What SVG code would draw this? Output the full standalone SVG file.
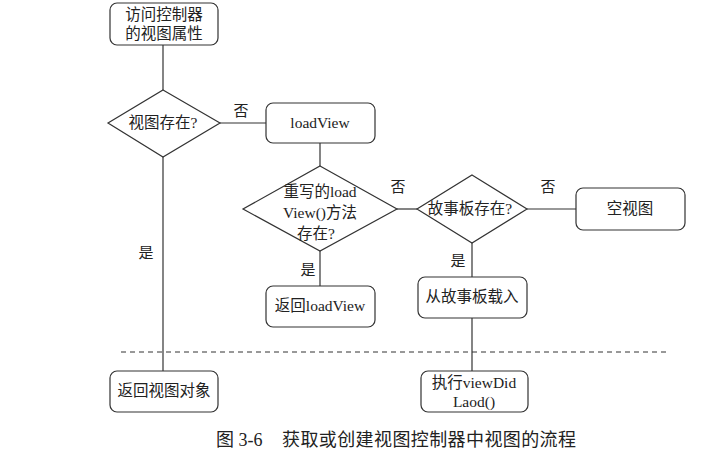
<svg xmlns="http://www.w3.org/2000/svg" width="712" height="463" viewBox="0 0 712 463">
<style>
.n{fill:#fff;stroke:#333;stroke-width:1.2}
.c{stroke:#333;stroke-width:1.2;fill:none}
.t{font-family:"Liberation Serif","Noto Sans CJK SC",serif;font-size:15.5px;fill:#222;text-anchor:middle}
.l{font-family:"Liberation Serif","Noto Sans CJK SC",serif;font-size:15px;fill:#222;text-anchor:middle}
.cap{font-family:"Liberation Serif","Noto Sans CJK SC",serif;font-size:18px;fill:#222}
</style>
<rect width="712" height="463" fill="#fff"/>
<g id="connectors">
<line class="c" x1="163" y1="45" x2="163" y2="90"/>
<line class="c" x1="220" y1="123" x2="266" y2="123"/>
<line class="c" x1="320" y1="143" x2="320" y2="166"/>
<line class="c" x1="397" y1="209" x2="417" y2="209"/>
<line class="c" x1="527" y1="209" x2="576" y2="209"/>
<line class="c" x1="472" y1="243" x2="472" y2="277"/>
<line class="c" x1="472" y1="318" x2="472" y2="371"/>
<line class="c" x1="320" y1="251" x2="320" y2="286"/>
<line class="c" x1="163" y1="157" x2="163" y2="371"/>
<line x1="121" y1="352" x2="667" y2="352" stroke="#333" stroke-width="1" stroke-dasharray="5,4"/>
<text class="l" x="241" y="116">否</text>
<text class="l" x="398" y="192">否</text>
<text class="l" x="548" y="192">否</text>
<text class="l" x="458" y="266">是</text>
<text class="l" x="308" y="275">是</text>
<text class="l" x="146" y="258">是</text>
</g>
<g id="start"><rect class="n" x="110" y="3" width="108" height="42" rx="7"/><text class="t" x="164" y="20">访问控制器</text><text class="t" x="164" y="39">的视图属性</text></g>
<g id="d1"><polygon class="n" points="163,90 220,123 163,157 108,123"/><text class="t" x="163" y="128">视图存在?</text></g>
<g id="loadView"><rect class="n" x="266" y="103" width="109" height="40" rx="7"/><text class="t" x="320" y="128">loadView</text></g>
<g id="d2"><polygon class="n" points="320,166 397,209 320,251 243,209"/><text class="t" x="320" y="197">重写的load</text><text class="t" x="320" y="218">View()方法</text><text class="t" x="316" y="239">存在?</text></g>
<g id="d3"><polygon class="n" points="472,175 527,209 472,243 417,209"/><text class="t" x="470" y="214">故事板存在?</text></g>
<g id="empty"><rect class="n" x="576" y="188" width="109" height="42" rx="7"/><text class="t" x="630" y="214">空视图</text></g>
<g id="storyboard"><rect class="n" x="418" y="277" width="109" height="41" rx="7"/><text class="t" x="472" y="302">从故事板载入</text></g>
<g id="retLoad"><rect class="n" x="266" y="286" width="109" height="41" rx="7"/><text class="t" x="320" y="311">返回loadView</text></g>
<g id="retView"><rect class="n" x="110" y="371" width="108" height="41" rx="7"/><text class="t" x="164" y="396">返回视图对象</text></g>
<g id="didLoad"><rect class="n" x="421" y="371" width="107" height="41" rx="7"/><text class="t" x="474" y="388">执行viewDid</text><text class="t" x="474" y="407">Laod()</text></g>
<text class="cap" x="216" y="446">图 3-6</text>
<text class="cap" x="282" y="446" textLength="294" lengthAdjust="spacing">获取或创建视图控制器中视图的流程</text>
</svg>
